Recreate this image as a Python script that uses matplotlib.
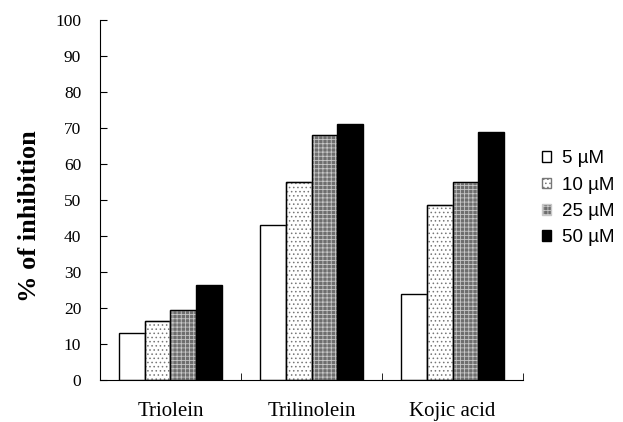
import numpy as np
import matplotlib.pyplot as plt

# data
categories = ["Triolein", "Trilinolein", "Kojic acid"]
series_labels = ["5 \u00b5M", "10 \u00b5M", "25 \u00b5M", "50 \u00b5M"]
v5 = [13, 43, 24]
v10 = [16.5, 55, 48.5]
v25 = [19.5, 68, 55]
v50 = [26.5, 71, 69]
yticks = list(range(0, 101, 10))

series = [v5, v10, v25, v50]
faces = ["white", "white", "#6e6e6e", "black"]
hatches = [None, "....", "++++", None]
hatch_cols = ["black", "#777777", "#c8c8c8", "black"]

plt.rcParams['hatch.linewidth'] = 0.6

fig = plt.figure(figsize=(6.23, 4.22), dpi=100)
ax = fig.add_axes([0.1605, 0.0995, 0.679, 0.853])

x = np.arange(len(categories))
w = 0.184
for i, vals in enumerate(series):
    bars = ax.bar(x + (i - 1.5) * w, vals, w, color=faces[i], edgecolor="black",
                  linewidth=1.0, hatch=hatches[i], label=series_labels[i])
    if hatches[i]:
        for b in bars:
            b.set_edgecolor(hatch_cols[i])
        # black outline on top of the hatched bars
        ax.bar(x + (i - 1.5) * w, vals, w, fill=False, edgecolor="black", linewidth=1.0)

ax.set_xlim(-0.5, 2.5)
ax.set_ylim(0, 100)
ax.set_yticks(yticks)
ax.set_yticklabels([str(t) for t in yticks], family="Liberation Serif", fontsize=12.5)
ax.set_xticks(x)
ax.set_xticklabels(categories, family="Liberation Serif", fontsize=15)
ax.set_xticks([0.5, 1.5, 2.5], minor=True)
ax.tick_params(axis="x", which="major", length=0, pad=16)
ax.tick_params(axis="x", which="minor", length=5, direction="in")
ax.tick_params(axis="y", length=5, direction="in", pad=13.5)

for s in ["top", "right"]:
    ax.spines[s].set_visible(False)

ax.set_ylabel("% of inhibition", family="Liberation Serif", fontsize=19,
              fontweight="bold")
ax.yaxis.set_label_coords(-0.14, 0.455)

leg = ax.legend(loc="center left", bbox_to_anchor=(1.045, 0.505), frameon=False,
                prop={"family": "Liberation Sans", "size": 13.5},
                handlelength=0.5, handleheight=0.5, handletextpad=0.55,
                labelspacing=0.5, borderaxespad=0, borderpad=0)

fig.savefig("out.png", dpi=100)
